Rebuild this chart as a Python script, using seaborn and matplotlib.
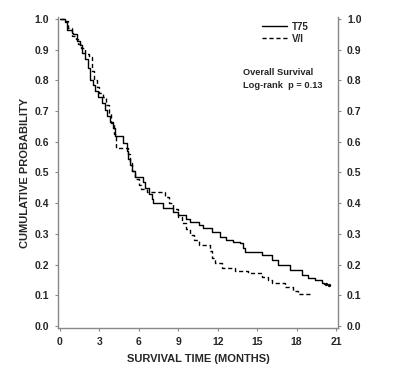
import numpy as np
import pandas as pd
import matplotlib
matplotlib.use("Agg")
import matplotlib.pyplot as plt
import seaborn as sns
from matplotlib.lines import Line2D

sns.set_style("ticks")
plt.rcParams["font.family"] = ["Liberation Sans", "DejaVu Sans"]

# Kaplan-Meier steps (time in months, survival after the step)
t75_time = [0, 0.4, 0.5, 0.9, 1.0, 1.3, 1.5, 1.7, 1.9, 2.1, 2.3, 2.5, 2.7, 2.9, 3.2,
            3.4, 3.6, 3.8, 4.0, 4.2, 4.8, 5.1, 5.2, 5.35, 5.5, 5.7, 6.3, 6.5, 6.8,
            7.0, 7.1, 7.8, 8.6, 9.0, 9.6, 9.9, 10.6, 10.9, 11.6, 12.2, 12.6, 13.2,
            13.7, 13.9, 14.1, 15.4, 16.1, 16.6, 17.5, 18.4, 18.9, 19.4, 19.9, 20.1]
t75_surv = [1.0, 0.99, 0.965, 0.955, 0.95, 0.93, 0.915, 0.89, 0.87, 0.84, 0.80, 0.785,
            0.765, 0.745, 0.725, 0.705, 0.685, 0.665, 0.645, 0.62, 0.595, 0.57, 0.545,
            0.525, 0.505, 0.485, 0.47, 0.45, 0.43, 0.415, 0.40, 0.385, 0.37, 0.36,
            0.35, 0.34, 0.33, 0.318, 0.306, 0.29, 0.28, 0.275, 0.27, 0.255, 0.24,
            0.23, 0.215, 0.20, 0.182, 0.166, 0.155, 0.148, 0.14, 0.137]
t75_cens_time = [20.25, 20.5]
t75_cens_surv = [0.135, 0.133]

vi_time = [0, 0.3, 0.6, 0.9, 1.2, 1.4, 1.6, 1.9, 2.2, 2.4, 2.6, 2.8, 3.0, 3.3, 3.5,
           3.7, 3.9, 4.1, 4.3, 5.2, 5.3, 5.5, 5.7, 6.0, 6.2, 6.6, 8.0, 8.3, 8.6, 9.0,
           9.3, 9.6, 9.9, 10.2, 10.6, 11.4, 11.6, 11.8, 12.3, 13.3, 14.3, 15.4, 15.8,
           16.1, 17.1, 17.7, 18.1, 19.2]
vi_surv = [1.0, 0.995, 0.97, 0.945, 0.935, 0.92, 0.905, 0.885, 0.875, 0.83, 0.80,
           0.78, 0.76, 0.745, 0.72, 0.695, 0.66, 0.625, 0.58, 0.56, 0.53, 0.505, 0.48,
           0.46, 0.445, 0.435, 0.42, 0.40, 0.38, 0.355, 0.335, 0.315, 0.296, 0.28,
           0.264, 0.245, 0.22, 0.205, 0.19, 0.18, 0.172, 0.16, 0.15, 0.14, 0.128,
           0.115, 0.105, 0.105]

x_ticks = [0, 3, 6, 9, 12, 15, 18, 21]
y_ticks = [0.0, 0.1, 0.2, 0.3, 0.4, 0.5, 0.6, 0.7, 0.8, 0.9, 1.0]

df = pd.concat([
    pd.DataFrame({"time": t75_time, "surv": t75_surv, "arm": "T75"}),
    pd.DataFrame({"time": vi_time, "surv": vi_surv, "arm": "V/I"}),
])

fig = plt.figure(figsize=(3.97, 3.85), dpi=100)
ax = fig.add_axes([58 / 397, 1 - 328 / 385, 280 / 397, 311 / 385])

sns.lineplot(data=df, x="time", y="surv", style="arm", color="black",
             dashes={"T75": "", "V/I": (3, 2)}, drawstyle="steps-post",
             estimator=None, sort=False, legend=False, linewidth=1.0, ax=ax)
ax.scatter(t75_cens_time, t75_cens_surv, s=2, color="black", zorder=3)

ax.set_xlim(-0.15, 21.15)
ax.set_ylim(-0.007, 1.007)
ax.set_xticks(x_ticks)
ax.set_yticks(y_ticks)
ax.set_xticklabels([str(v) for v in x_ticks])
ax.set_yticklabels([f"{v:.1f}" for v in y_ticks])

for side in ["left", "bottom", "right"]:
    ax.spines[side].set_color("#888888")
    ax.spines[side].set_linewidth(1.0)
ax.spines["top"].set_visible(False)
ax.tick_params(axis="both", direction="out", length=2.5, width=0.8, color="#888888",
               labelsize=7.5, pad=4)
ax.tick_params(axis="y", right=True, labelright=True)
for lab in ax.get_xticklabels() + ax.get_yticklabels():
    lab.set_fontweight("bold")

ax.set_xlabel("SURVIVAL TIME (MONTHS)", fontsize=8, fontweight="bold", labelpad=5)
ax.set_ylabel("CUMULATIVE PROBABILITY", fontsize=8, fontweight="bold", labelpad=3)

handles = [Line2D([], [], color="black", linewidth=1.0),
           Line2D([], [], color="black", linewidth=1.0, dashes=(3, 2))]
ax.legend(handles, ["T75", "V/I"], loc="upper left", bbox_to_anchor=(0.71, 1.0),
          frameon=False, handlelength=2.6, handletextpad=0.5,
          borderpad=0, labelspacing=0.2, prop={"weight": "bold", "size": 7})

ax.text(0.66, 0.82, "Overall Survival", transform=ax.transAxes, fontsize=6.7,
        fontweight="bold", va="center", ha="left")
ax.text(0.66, 0.78, "Log-rank  p = 0.13", transform=ax.transAxes, fontsize=6.7,
        fontweight="bold", va="center", ha="left")

fig.savefig("out.png", dpi=100)
